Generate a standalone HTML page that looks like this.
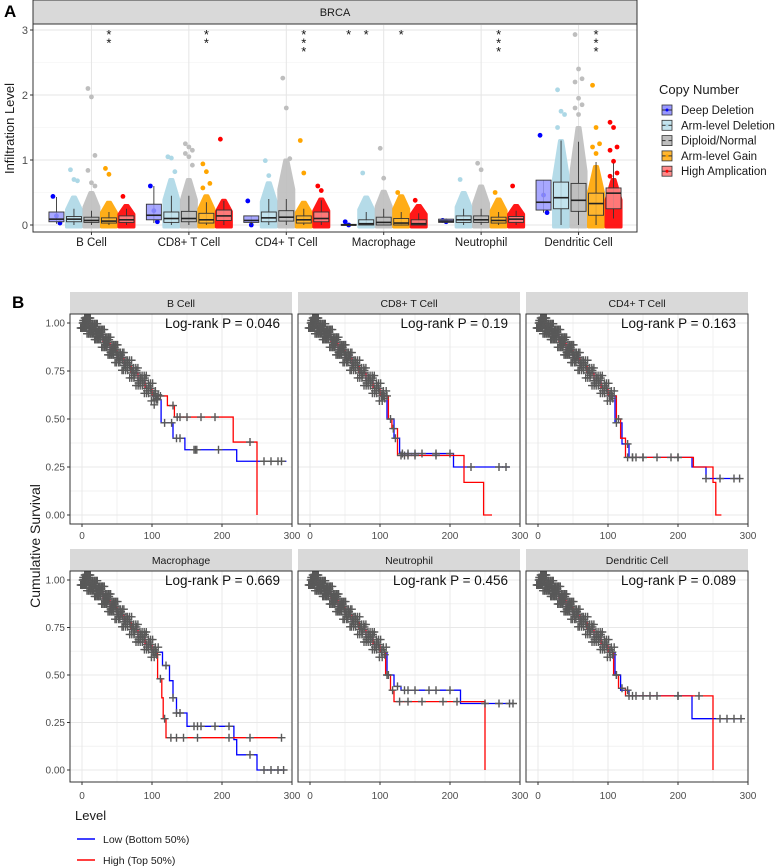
<!DOCTYPE html>
<html><head><meta charset="utf-8"><style>
body{margin:0;background:#fff}
svg{display:block;font-family:"Liberation Sans",Arial,sans-serif}
</style></head><body>
<svg id="fig" width="781" height="868" viewBox="0 0 781 868" xmlns="http://www.w3.org/2000/svg">
<text x="4" y="17" font-size="17" font-weight="bold">A</text>
<text x="12" y="308" font-size="17" font-weight="bold">B</text>
<g id="pa"></g>
<g id="pb"></g>
</svg>
<script>
// ---------- Panel A data ----------
const categories = ["B Cell","CD8+ T Cell","CD4+ T Cell","Macrophage","Neutrophil","Dendritic Cell"];
const groups = ["Deep Deletion","Arm-level Deletion","Diploid/Normal","Arm-level Gain","High Amplication"];
// [q1, median, q3, whiskerLow, whiskerHigh]
const boxDeep  = [[.05,.09,.2,.02,.43],[.08,.15,.32,.03,.6],[.04,.07,.14,0,.14],[0,0,.01,0,.02],[.04,.06,.09,.03,.1],[.23,.35,.69,.19,.69]];
const boxArm   = [[.05,.09,.13,0,.25],[.04,.1,.2,0,.45],[.05,.11,.2,0,.4],[0,.02,.08,0,.2],[.04,.08,.14,0,.25],[.25,.42,.66,0,1.3]];
const boxDip   = [[.04,.07,.12,0,.22],[.05,.1,.21,0,.45],[.06,.12,.22,0,.4],[0,.04,.12,0,.25],[.04,.08,.14,0,.25],[.21,.38,.64,0,1.28]];
const boxGain  = [[.03,.06,.11,0,.2],[.03,.08,.18,0,.35],[.03,.08,.14,0,.25],[0,.03,.1,0,.2],[.03,.07,.12,0,.2],[.15,.33,.49,0,.97]];
const boxHigh  = [[.04,.08,.14,0,.25],[.07,.14,.23,0,.37],[.05,.1,.2,0,.38],[0,.02,.08,0,.18],[.04,.09,.13,0,.22],[.25,.49,.57,.1,.95]];
const cloudDeep = [0,0,0,0,0,0];
const cloudArm  = [.43,.7,.65,.43,.5,1.3];
const cloudDip  = [.5,.7,1.0,.52,.6,1.5];
const cloudGain = [.35,.45,.35,.45,.4,.9];
const cloudHigh = [.3,.38,.4,.3,.3,.7];
const ptsDeep = [[.44,.14,.03],[.6,.22,.05],[.37,0],[.05,0],[.07,.05],[1.38,.46,.19]];
const ptsArm  = [[.85,.7,.68],[1.05,1.03,.82],[.99,.76],[.8],[.7],[2.08,1.75,1.7,1.5]];
const ptsDip  = [[2.1,1.97,1.07,.84,.65,.6],[1.25,1.2,1.15,1.1,1.05,.92],[2.26,1.8,1.02],[1.18,.72],[.95,.85],[2.93,2.4,2.25,2.2,1.95,1.85,1.8,1.7]];
const ptsGain = [[.87,.78],[.94,.82,.64,.57],[1.3,.8],[.5],[.5],[2.15,1.5,1.25,1.2,1.1]];
const ptsHigh = [[.44],[1.32],[.6,.53],[.38],[.6],[1.58,1.5,1.2,1.15,.98,.8,.75]];
const stars = [["**",3],["**",3],["***",3],["*",1],["*",2],["*",3],["***",3],["***",3]];
const yTicksA = [0,1,2,3];

const NS="http://www.w3.org/2000/svg";
function mk(tag,attrs,parent){const e=document.createElementNS(NS,tag);for(const k in attrs)e.setAttribute(k,attrs[k]);parent.appendChild(e);return e;}

(function(){
const g=document.getElementById('pa');
const L=33,R=637,T=25,B=232;
const unit=(R-L)/6.2;
const xc=i=>L+unit*(0.6+i);
const y=v=>225-v*65;
const boxes=[boxDeep,boxArm,boxDip,boxGain,boxHigh];
const clouds=[cloudDeep,cloudArm,cloudDip,cloudGain,cloudHigh];
const pts=[ptsDeep,ptsArm,ptsDip,ptsGain,ptsHigh];
const ptCol=["#0000ff","#add8e6","#bebebe","#ffa500","#ff0000"];
const boxFill=["#9999ff","#c4e4ee","#bebebe","#ffb732","#ff8a8a"];
const off=[-2,-1,0,1,2];
let s=mk('rect',{x:L,y:0,width:R-L,height:24,fill:'#d9d9d9',stroke:'#333','stroke-width':1},g);

let st=mk('text',{x:(L+R)/2,y:16,'text-anchor':'middle','font-size':11,fill:'#1a1a1a'},g);st.textContent='BRCA';

for(let v=0.5;v<3.2;v+=1){mk('line',{x1:L,x2:R,y1:y(v),y2:y(v),stroke:'#f2f2f2','stroke-width':.6},g);}
yTicksA.forEach(v=>{mk('line',{x1:L,x2:R,y1:y(v),y2:y(v),stroke:'#e5e5e5','stroke-width':1},g);
 const t=mk('text',{x:L-5,y:y(v)+4,'text-anchor':'end','font-size':11,fill:'#4d4d4d'},g);t.textContent=v;
 
 mk('line',{x1:L-3,x2:L,y1:y(v),y2:y(v),stroke:'#333'},g);});
categories.forEach((c,i)=>{mk('line',{x1:xc(i),x2:xc(i),y1:T,y2:B,stroke:'#e5e5e5'},g);
 mk('line',{x1:xc(i),x2:xc(i),y1:B,y2:B+3,stroke:'#333'},g);
 const t=mk('text',{x:xc(i),y:246,'text-anchor':'middle','font-size':11.5,fill:'#1a1a1a'},g);t.textContent=c;
 });
const hw=7.5, sp=17.5;
categories.forEach((c,i)=>{
 for(let k=0;k<5;k++){
  const cx=xc(i)+off[k]*sp;
  const b=boxes[k][i];
  if(clouds[k][i]>0){
   const top=y(clouds[k][i]), mid=y(clouds[k][i]*0.55), bot=y(0)+2;
   const d=`M${cx-1.5},${top}L${cx+1.5},${top}L${cx+hw},${mid}L${cx+hw},${bot}L${cx-hw},${bot}L${cx-hw},${mid}Z`;
   const r=mk('path',{d:d,fill:ptCol[k],opacity:.9,'stroke':ptCol[k],'stroke-width':3,'stroke-linejoin':'round'},g);
   
  }
  pts[k][i].forEach((v,j)=>{const p=mk('circle',{cx:cx+((j%3)-1)*3.5,cy:y(v),r:2.4,fill:ptCol[k]},g);
   });
  mk('line',{x1:cx,x2:cx,y1:y(b[3]),y2:y(b[4]),stroke:'#333','stroke-width':.9},g);
  const bx=mk('rect',{x:cx-hw,y:y(b[2]),width:hw*2,height:Math.max(1,y(b[0])-y(b[2])),fill:boxFill[k],'fill-opacity':.85,stroke:'#333','stroke-width':.9},g);
  
  mk('line',{x1:cx-hw,x2:cx+hw,y1:y(b[1]),y2:y(b[1]),stroke:'#222','stroke-width':1.6},g);
 }
});
const starX=[xc(0)+sp,xc(1)+sp,xc(2)+sp,xc(3)-2*sp,xc(3)-sp,xc(3)+sp,xc(4)+sp,xc(5)+sp];
stars.forEach((s,i)=>{for(let j=0;j<s[0].length;j++){const t=mk('text',{x:starX[i],y:39+j*8.5,'text-anchor':'middle','font-size':13,fill:'#111'},g);t.textContent='*';
 }});
mk('rect',{x:L,y:24,width:R-L,height:B-24,fill:'none',stroke:'#333','stroke-width':1},g);
const yt=mk('text',{x:0,y:0,'font-size':13,fill:'#1a1a1a','text-anchor':'middle',transform:`translate(14,${(T+B)/2}) rotate(-90)`},g);yt.textContent='Infiltration Level';

const lt=mk('text',{x:659,y:94,'font-size':13,fill:'#1a1a1a'},g);lt.textContent='Copy Number';

groups.forEach((n,k)=>{const yy=110+k*15.3;
 const lg=mk('g',{},g);
 mk('rect',{x:662,y:yy-5,width:10,height:10,fill:boxFill[k],stroke:'#333','stroke-width':.8},lg);
 mk('line',{x1:662,x2:672,y1:yy,y2:yy,stroke:'#333','stroke-width':1},lg);
 mk('circle',{cx:667,cy:yy,r:1.5,fill:ptCol[k]},lg);
 const t=mk('text',{x:681,y:yy+4,'font-size':11.5,fill:'#1a1a1a'},lg);t.textContent=n;});
})();

// ---------- Panel B data ----------
const cells = ["B Cell","CD8+ T Cell","CD4+ T Cell","Macrophage","Neutrophil","Dendritic Cell"];
const pvals = ["0.046","0.19","0.163","0.669","0.456","0.089"];
const earlyT = [0,10,20,30,40,50,60,70,80,90,100];
const earlyS = [1,.97,.94,.9,.86,.82,.78,.74,.7,.66,.62];
const lowTail = [
 [[105,.6],[113,.48],[130,.4],[147,.34],[221,.28],[292,.28]],
 [[110,.5],[120,.4],[128,.32],[200,.32],[205,.25],[285,.25]],
 [[110,.48],[120,.37],[130,.3],[220,.25],[240,.19],[290,.19]],
 [[115,.55],[125,.47],[130,.38],[135,.3],[150,.23],[215,.23],[217,.16],[221,.08],[250,0],[290,0]],
 [[110,.5],[120,.44],[130,.42],[215,.35],[290,.35]],
 [[110,.5],[118,.42],[130,.39],[215,.39],[220,.27],[292,.27]]
];
const highTail = [
 [[115,.62],[122,.57],[132,.51],[216,.38],[250,.38],[250,0]],
 [[112,.5],[117,.45],[125,.31],[218,.31],[220,.17],[248,.17],[248,0],[260,0]],
 [[112,.5],[118,.4],[125,.3],[220,.3],[222,.25],[250,.17],[254,0],[262,0]],
 [[108,.48],[114,.38],[116,.27],[120,.17],[285,.17]],
 [[108,.5],[115,.42],[120,.36],[250,.36],[250,0]],
 [[108,.5],[115,.43],[125,.39],[250,.39],[250,0]]
];
const earlyCensor = [1,2,3,4,5,6,7,8,9,10,12,13,15,16,18,19,21,22,24,26,27,29,31,33,35,36,38,40,42,44,46,48,50,52,55,57,60,62,65,68,71,74,77,80,83,86,89,92,95,98,102,106];
const lowCensor = [
 [108,118,128,135,140,160,162,164,195,260,270,280,285],
 [115,122,132,140,150,160,180,200,230,270,280],
 [112,128,135,140,150,170,200,240,260,280,288],
 [105,120,130,135,140,160,165,170,190,210,240,260,270,280,288],
 [112,125,135,140,150,170,180,200,250,270,285,290],
 [112,128,135,140,150,170,200,260,270,280,290]
];
const highCensor = [
 [105,112,130,136,140,150,170,190,240],
 [104,110,119,130,135,140,150,180],
 [105,115,128,135,150,190,200],
 [100,106,112,118,127,135,145,165,210,240,285],
 [110,118,128,140,160,190,210],
 [106,112,120,130,160,200,230]
];
const xTicksB=[0,100,200,300];
const yTicksB=[0,.25,.5,.75,1];

(function(){
const g=document.getElementById('pb');
const colX=[70,298,526], W=222;
const rows=[{st:292,top:314,bot:524,y1:323,y0:515,lab:535},{st:549,top:571,bot:782,y1:580,y0:770,lab:795}];
function surv(curve,t){let s=curve[0][1];for(const p of curve){if(p[0]<=t)s=p[1];else break;}return s;}
cells.forEach((c,i)=>{
 const r=rows[Math.floor(i/3)], L=colX[i%3], R=L+W;
 const x=t=>L+12+t*0.7;
 const y=s=>r.y0-(r.y0-r.y1)*s;
 const pg=mk('g',{},g);
 mk('rect',{x:L,y:r.st,width:W,height:r.top-r.st,fill:'#d9d9d9'},pg);
 const stt=mk('text',{x:L+W/2,y:r.st+15,'text-anchor':'middle','font-size':10.5,fill:'#1a1a1a'},pg);stt.textContent=c;
 
 [50,150,250].forEach(t=>mk('line',{x1:x(t),x2:x(t),y1:r.top,y2:r.bot,stroke:'#f2f2f2'},pg));
 [.125,.375,.625,.875].forEach(s=>mk('line',{x1:L,x2:R,y1:y(s),y2:y(s),stroke:'#f2f2f2'},pg));
 xTicksB.forEach(t=>{if(x(t)<=R)mk('line',{x1:x(t),x2:x(t),y1:r.top,y2:r.bot,stroke:'#e8e8e8'},pg);
  mk('line',{x1:x(t),x2:x(t),y1:r.bot,y2:r.bot+3,stroke:'#333'},pg);
  const tt=mk('text',{x:x(t),y:r.lab+4,'text-anchor':'middle','font-size':10,fill:'#4d4d4d'},pg);tt.textContent=t;
  });
 yTicksB.forEach(s=>{mk('line',{x1:L,x2:R,y1:y(s),y2:y(s),stroke:'#e8e8e8'},pg);
  if(i%3===0){mk('line',{x1:L-3,x2:L,y1:y(s),y2:y(s),stroke:'#333'},pg);
  const tt=mk('text',{x:L-5,y:y(s)+3.5,'text-anchor':'end','font-size':10,fill:'#4d4d4d'},pg);tt.textContent=s.toFixed(2);
  }});
 const early=earlyT.map((t,k)=>[t,earlyS[k]]);
 const low=early.concat(lowTail[i]), high=early.concat(highTail[i]);
 function path(cv){let d=`M${x(cv[0][0])},${y(cv[0][1])}`;for(let k=1;k<cv.length;k++){d+=`H${x(cv[k][0])}V${y(cv[k][1])}`;}return d;}
 const lp=mk('path',{d:path(low),fill:'none',stroke:'#0000ff','stroke-width':1.3},pg);
 
 const hp=mk('path',{d:path(high),fill:'none',stroke:'#ff0000','stroke-width':1.3},pg);
 
 function cen(t,s,dy,dx){const cx=x(t)+(dx||0),cy=y(s)+dy;
  mk('path',{d:`M${cx-4},${cy}H${cx+4}M${cx},${cy-4}V${cy+4}`,stroke:'#595959','stroke-width':1.4},pg);}
 earlyCensor.forEach((t,k)=>{const sl=surv(low,t);
  cen(t,sl,-5,2);cen(t,sl,0,0);cen(t,sl,5,-2);cen(t+0.8,surv(high,t+0.8),(k%2?2.5:-2.5),0);});
 lowCensor[i].forEach(t=>cen(t,surv(low,t),0));
 highCensor[i].forEach(t=>cen(t,surv(high,t),0));
 mk('rect',{x:L,y:r.top,width:W,height:r.bot-r.top,fill:'none',stroke:'#333','stroke-width':1},pg);
 const pt=mk('text',{x:R-12,y:r.y1+5,'text-anchor':'end','font-size':13.5,fill:'#111'},pg);pt.textContent='Log-rank P = '+pvals[i];
 
});
const yt=mk('text',{x:0,y:0,'font-size':14,fill:'#1a1a1a','text-anchor':'middle',transform:'translate(40,546) rotate(-90)'},g);yt.textContent='Cumulative Survival';

const lt=mk('text',{x:75,y:820,'font-size':13,fill:'#1a1a1a'},g);lt.textContent='Level';

[["Low (Bottom 50%)","#0000ff",839],["High (Top 50%)","#ff0000",860]].forEach(e=>{
 const lg=mk('g',{},g);
 mk('line',{x1:77,x2:95,y1:e[2],y2:e[2],stroke:e[1],'stroke-width':1.5},lg);
 const t=mk('text',{x:103,y:e[2]+4,'font-size':10.5,fill:'#1a1a1a'},lg);t.textContent=e[0];});
})();
</script>
</body></html>
